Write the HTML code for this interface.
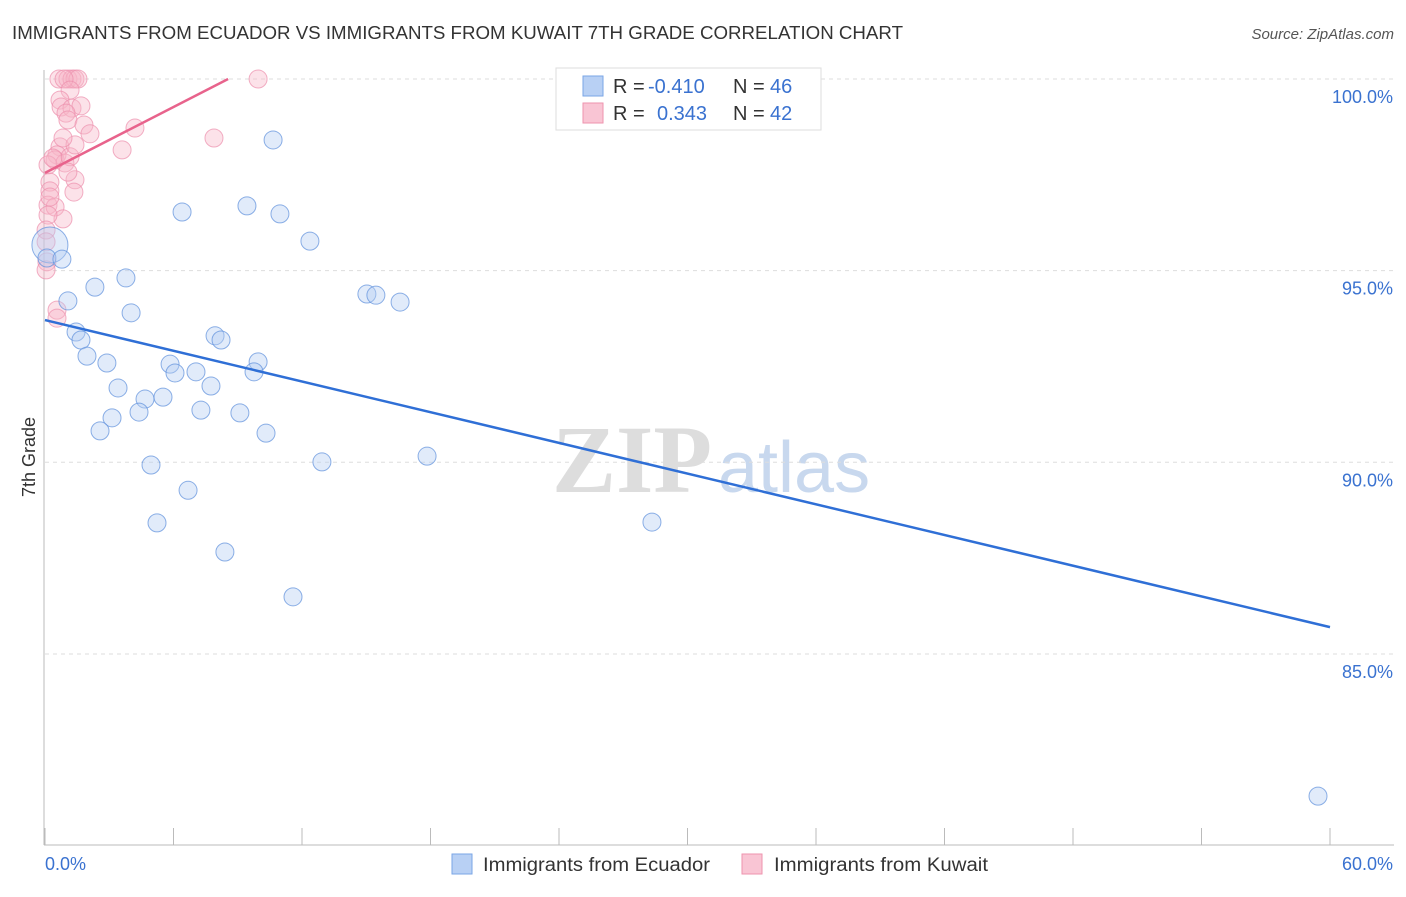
<!DOCTYPE html>
<html><head><meta charset="utf-8"><style>
body{margin:0;background:#fff;font-family:"Liberation Sans",sans-serif;}
</style></head><body>
<svg id="c" width="1406" height="892" xmlns="http://www.w3.org/2000/svg">
<text x="12" y="39" font-size="18" fill="#333" textLength="891" lengthAdjust="spacingAndGlyphs">IMMIGRANTS FROM ECUADOR VS IMMIGRANTS FROM KUWAIT 7TH GRADE CORRELATION CHART</text>
<text x="1394" y="39" font-size="15" fill="#555" font-style="italic" text-anchor="end">Source: ZipAtlas.com</text>
<text x="35" y="457" font-size="18" fill="#333" text-anchor="middle" transform="rotate(-90 35 457)">7th Grade</text>
<g><text x="552" y="492" font-size="96" fill="#ddd" font-family="Liberation Serif,serif" font-weight="bold">ZIP</text><text x="718" y="492" font-size="72" fill="#c8d8ee">atlas</text></g>
<g id="grid"></g><g id="marks"></g>
<g>
<rect x="556" y="68" width="265" height="62" fill="#fff" stroke="#ddd"/>
<rect x="583" y="76" width="20" height="20" fill="#b8d0f4" stroke="#7aa6e6"/>
<rect x="583" y="103" width="20" height="20" fill="#f9c5d4" stroke="#ee93ae"/>
<text x="613" y="93" font-size="20" fill="#333">R = <tspan fill="#3a72d0" x="648">-0.410</tspan></text>
<text x="733" y="93" font-size="20" fill="#333">N = <tspan fill="#3a72d0" x="770">46</tspan></text>
<text x="613" y="120" font-size="20" fill="#333">R = <tspan fill="#3a72d0" x="657">0.343</tspan></text>
<text x="733" y="120" font-size="20" fill="#333">N = <tspan fill="#3a72d0" x="770">42</tspan></text>
</g>
<g>
<rect x="452" y="854" width="20" height="20" fill="#b8d0f4" stroke="#7aa6e6"/>
<text x="483" y="871" font-size="19" fill="#333" textLength="227" lengthAdjust="spacingAndGlyphs">Immigrants from Ecuador</text>
<rect x="742" y="854" width="20" height="20" fill="#f9c5d4" stroke="#ee93ae"/>
<text x="774" y="871" font-size="19" fill="#333" textLength="214" lengthAdjust="spacingAndGlyphs">Immigrants from Kuwait</text>
</g>
</svg>
<script>
const yTicks=[100,95,90,85];
const yTickLabels=["100.0%","95.0%","90.0%","85.0%"];
const xTicks=[0,6,12,18,24,30,36,42,48,54,60];
const xLabels=[[0,"0.0%"],[60,"60.0%"]];
const ecuadorX=[26.7,10.65,6.40,9.43,10.97,12.37,0.23,0.09,0.79,3.78,2.33,1.07,15.03,15.45,16.58,4.02,1.45,1.68,7.94,8.22,1.96,2.89,5.84,9.95,6.07,7.05,9.76,3.41,7.75,4.67,5.51,4.39,7.28,3.13,9.10,2.57,10.32,4.95,12.93,17.84,6.68,5.23,28.34,8.40,11.58,59.44];
const ecuadorY=[99.53,98.41,96.53,96.69,96.48,95.77,95.67,95.33,95.30,94.81,94.57,94.21,94.39,94.36,94.18,93.90,93.40,93.19,93.30,93.19,92.77,92.59,92.56,92.62,92.33,92.36,92.36,91.94,91.99,91.65,91.70,91.31,91.36,91.16,91.29,90.82,90.76,89.93,90.01,90.16,89.27,88.42,88.44,87.66,86.49,81.29];
const kuwaitX=[0.65,1.07,1.26,1.40,1.54,9.95,0.89,1.17,0.70,0.75,1.26,1.68,0.98,1.07,1.82,2.10,4.20,3.60,7.89,0.70,0.56,0.47,0.93,1.17,1.40,0.14,0.37,0.23,1.40,1.35,0.23,0.14,0.47,0.84,0.14,0.05,0.09,0.05,0.56,0.56,0.84,1.07,0.23,0.05];
const kuwaitY=[100,100,100,100,100,100,100,99.71,99.45,99.27,99.24,99.30,99.11,98.93,98.80,98.57,98.72,98.15,98.46,98.23,98.02,97.89,97.81,97.97,98.28,97.76,97.94,97.31,97.37,97.05,97.08,96.71,96.66,96.35,96.45,96.06,95.23,95.75,93.97,93.76,98.46,97.57,96.92,95.02];
const ecuadorTrendX=[0,60], ecuadorTrendY=[93.71,85.70];
const kuwaitTrendX=[0,8.55], kuwaitTrendY=[97.55,100];
const X=v=>45+v*1285/60, Y=v=>79+(100-v)*38.33;
const NS="http://www.w3.org/2000/svg";
const g=document.getElementById('grid'), m=document.getElementById('marks');
function el(t,a,p){const e=document.createElementNS(NS,t);for(const k in a)e.setAttribute(k,a[k]);p.appendChild(e);return e;}
yTicks.forEach((t,i)=>{
 const l=el('line',{x1:45,x2:1394,y1:Y(t),y2:Y(t),stroke:'#ddd','stroke-dasharray':'4,4'},g);
 
 
 const tx=el('text',{x:1393,y:Y(t)+24,'font-size':18,fill:'#3a72d0','text-anchor':'end'},g);tx.textContent=yTickLabels[i];
 
 
});
const ax=el('line',{x1:44,x2:44,y1:70,y2:845,stroke:'#bbb'},g);


const bx=el('line',{x1:44,x2:1394,y1:845,y2:845,stroke:'#bbb'},g);


xTicks.forEach(t=>{const l=el('line',{x1:X(t),x2:X(t),y1:828,y2:845,stroke:'#bbb'},g);
 
 });
xLabels.forEach(([v,s])=>{const tx=el('text',{x:v==0?X(v):1393,y:870,'font-size':18,fill:'#3a72d0','text-anchor':v==0?'start':'end'},g);tx.textContent=s;
 
 });
function pts(xs,ys,fill,stroke,name){xs.forEach((x,i)=>{const r=(i==6&&name=='ecuador-point')?18:9;
 const c=el('circle',{cx:X(x),cy:Y(ys[i]),r:r,fill:fill,'fill-opacity':0.4,stroke:stroke,'stroke-opacity':0.7},m);
 
 });}
pts(kuwaitX,kuwaitY,'#f7b6c9','#ec8fac','kuwait-point');
pts(ecuadorX,ecuadorY,'#b5cdf2','#5d8fdc','ecuador-point');
const t1=el('line',{x1:X(ecuadorTrendX[0]),y1:Y(ecuadorTrendY[0]),x2:X(ecuadorTrendX[1]),y2:Y(ecuadorTrendY[1]),stroke:'#2f6fd6','stroke-width':2.5},m);


const t2=el('line',{x1:X(kuwaitTrendX[0]),y1:Y(kuwaitTrendY[0]),x2:X(kuwaitTrendX[1]),y2:Y(kuwaitTrendY[1]),stroke:'#e8638c','stroke-width':2.5},m);


</script>
</body></html>
